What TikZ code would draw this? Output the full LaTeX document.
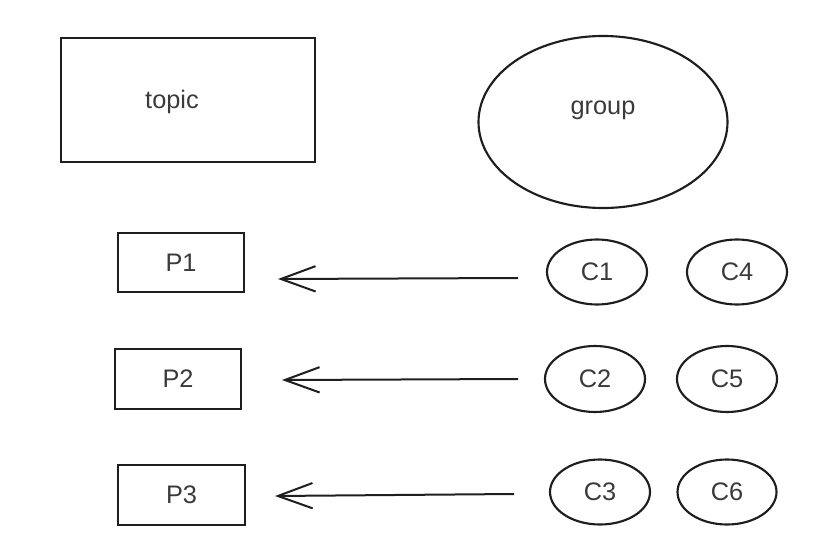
\documentclass[tikz,border=0pt]{standalone}
\usepackage{fontspec}
\setmainfont{Liberation Sans}
\usetikzlibrary{arrows.meta,shapes.geometric}
\definecolor{ink}{HTML}{1E1E1E}
\definecolor{txt}{HTML}{3A3A3A}
\begin{document}
\begin{tikzpicture}[x=0.75pt,y=-0.75pt,
  shapeline/.style={draw=ink,line width=1.6pt,inner sep=0pt},
  boxnode/.style={shapeline,rectangle},
  ovalnode/.style={shapeline,ellipse},
  lbl/.style={text=txt,font=\fontsize{19}{22}\selectfont},
  flowarrow/.style={draw=ink,line width=1.5pt,-{Straight Barb[length=26pt,width=19pt,line width=1.5pt]}}
]
\useasboundingbox (0,0) rectangle (831,549);
% top row
\node[boxnode,minimum width=190.5pt,minimum height=93pt] (topic) at (188,100) {};
\node[lbl] at (172,102) {topic};
\node[ovalnode,minimum width=186.75pt,minimum height=129pt] (group) at (603,122) {};
\node[lbl] at (603,110) {group};
% partitions
\node[boxnode,minimum width=94.5pt,minimum height=44.25pt,lbl] (P1) at (181,262.5) {P1};
\node[boxnode,minimum width=94.5pt,minimum height=45pt,lbl] (P2) at (178,379) {P2};
\node[boxnode,minimum width=95.25pt,minimum height=45pt,lbl] (P3) at (181.5,495) {P3};
% consumers
\node[ovalnode,minimum width=75pt,minimum height=48.75pt,lbl] (C1) at (597,272) {C1};
\node[ovalnode,minimum width=75pt,minimum height=48.75pt,lbl] (C4) at (737,272) {C4};
\node[ovalnode,minimum width=75pt,minimum height=49.5pt,lbl] (C2) at (595,379) {C2};
\node[ovalnode,minimum width=75pt,minimum height=49.5pt,lbl] (C5) at (727,379) {C5};
\node[ovalnode,minimum width=75pt,minimum height=48.75pt,lbl] (C3) at (600,492) {C3};
\node[ovalnode,minimum width=74.25pt,minimum height=48.75pt,lbl] (C6) at (727,492) {C6};
% arrows
\coordinate (a1s) at (518,278);
\coordinate (a1e) at (278,279);
\coordinate (a2s) at (518,379);
\coordinate (a2e) at (282,380);
\coordinate (a3s) at (514,494);
\coordinate (a3e) at (275,496);
\draw[flowarrow] (a1s) -- (a1e);
\draw[flowarrow] (a2s) -- (a2e);
\draw[flowarrow] (a3s) -- (a3e);
\end{tikzpicture}
\end{document}
